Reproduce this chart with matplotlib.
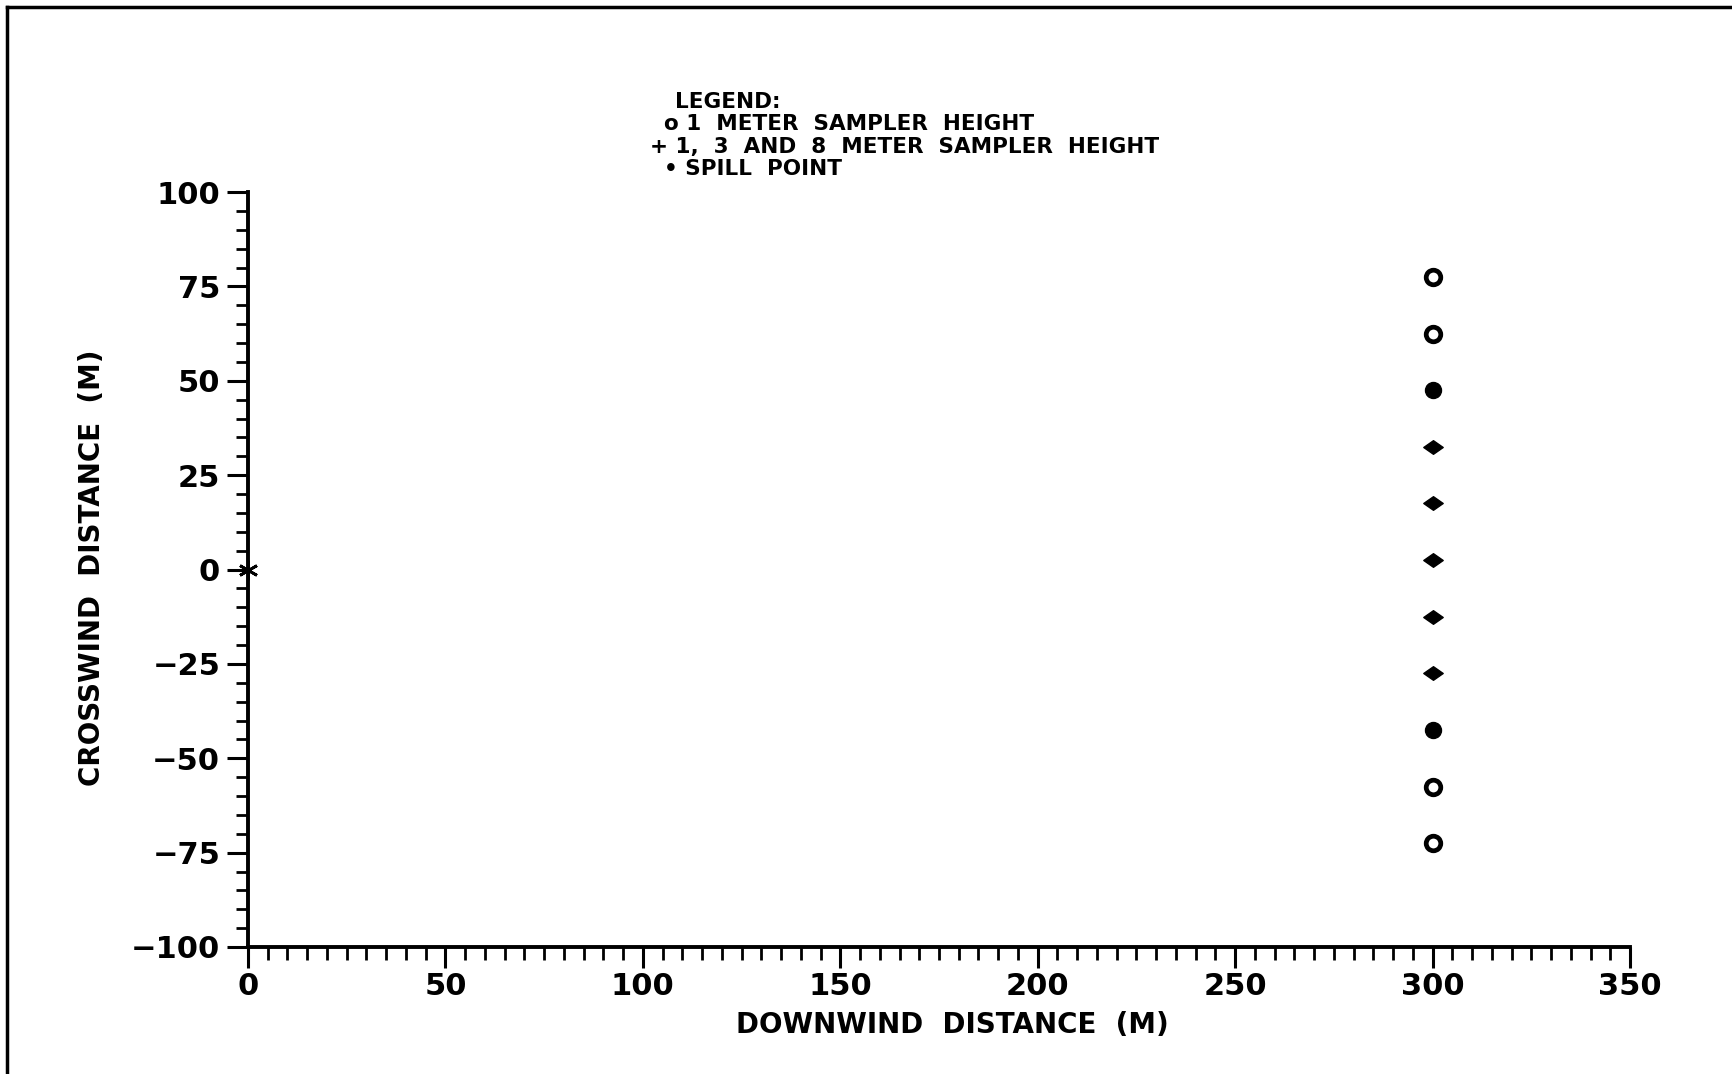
import matplotlib
matplotlib.use("Agg")
import matplotlib.pyplot as plt
from matplotlib.lines import Line2D
from matplotlib.path import Path
import numpy as np

# ---- data ----
downwind = [300, 300, 300, 300, 300, 300, 300, 300, 300, 300, 300]
crosswind = [77.5, 62.5, 47.5, 32.5, 17.5, 2.5, -12.5, -27.5, -42.5, -57.5, -72.5]
sampler_type = ["open", "open", "filled", "plus", "plus", "plus", "plus", "plus", "filled", "open", "open"]
spill_x = [0]
spill_y = [0]
x_ticks = [0, 50, 100, 150, 200, 250, 300, 350]
y_ticks = [-100, -75, -50, -25, 0, 25, 50, 75, 100]
legend_lines = ["LEGEND:", "o 1  METER  SAMPLER  HEIGHT", "+ 1,  3  AND  8  METER  SAMPLER  HEIGHT", "\u2022 SPILL  POINT"]

W, H = 1732, 1074
fig = plt.figure(figsize=(W / 100, H / 100), dpi=100)
plt.rcParams['font.family'] = ['DejaVu Sans']
ax = fig.add_axes([248 / W, 1 - 947 / H, (1630 - 248) / W, (947 - 192) / H])

ax.set_xlim(0, 350)
ax.set_ylim(-100, 100)
for s in ["top", "right"]:
    ax.spines[s].set_visible(False)
for s in ["left", "bottom"]:
    ax.spines[s].set_linewidth(2.8)

ax.set_xticks(x_ticks)
ax.set_yticks(y_ticks)
ax.set_xticks(np.arange(0, 351, 5), minor=True)
ax.set_yticks(np.arange(-100, 101, 5), minor=True)
ax.set_xticklabels([str(v) for v in x_ticks])
ax.set_yticklabels([str(v).replace("-", "\u2212") for v in y_ticks])
ax.tick_params(which="major", length=15, width=2.2, labelsize=22, direction="out")
ax.tick_params(axis="y", which="major", pad=5)
ax.tick_params(axis="x", which="major", pad=3)
ax.tick_params(which="minor", length=9, width=2.0, direction="out")
for lab in ax.get_xticklabels() + ax.get_yticklabels():
    lab.set_fontweight("bold")

diamond = Path([(-1, 0), (0, 0.7), (1, 0), (0, -0.7), (-1, 0)],
               [Path.MOVETO, Path.LINETO, Path.LINETO, Path.LINETO, Path.CLOSEPOLY])

for x, y, t in zip(downwind, crosswind, sampler_type):
    if t == "open":
        ax.plot(x, y, marker="o", markersize=10.5, markerfacecolor="white",
                markeredgecolor="black", markeredgewidth=3.4, linestyle="none")
    elif t == "filled":
        ax.plot(x, y, marker="o", markersize=11.5, color="black", linestyle="none")
    else:
        ax.plot(x, y, marker=diamond, markersize=14, color="black", linestyle="none")

ax.plot(spill_x, spill_y, marker=(6, 2, 0), markersize=14, markeredgewidth=2,
        color="black", linestyle="none", clip_on=False, zorder=5)

ax.set_xlabel("DOWNWIND  DISTANCE  (M)", fontsize=20, fontweight="bold")
ax.set_ylabel("CROSSWIND  DISTANCE  (M)", fontsize=20, fontweight="bold")
ax.xaxis.set_label_coords((952 - 248) / (1630 - 248), -(1025 - 947) / (947 - 192))
ax.yaxis.set_label_coords(-(248 - 92) / (1630 - 248), (947 - 568) / (947 - 192))
ax.xaxis.label.set_va("center")
ax.yaxis.label.set_va("center")

# legend drawn as text block
ys = [102, 124, 147, 169]
xs = [675, 664, 650, 664]
for txt, yy, xx in zip(legend_lines, ys, xs):
    fig.text(xx / W, 1 - yy / H, txt, fontsize=15.5, fontweight="bold",
             ha="left", va="center")

# scanned page border (top and left)
fig.add_artist(Line2D([7 / W, 1.0], [1 - 7 / H, 1 - 7 / H], color="black", linewidth=2.5))
fig.add_artist(Line2D([7 / W, 7 / W], [1 - 7 / H, 0.0], color="black", linewidth=2.5))

fig.savefig("out.png", dpi=100, facecolor="white")
